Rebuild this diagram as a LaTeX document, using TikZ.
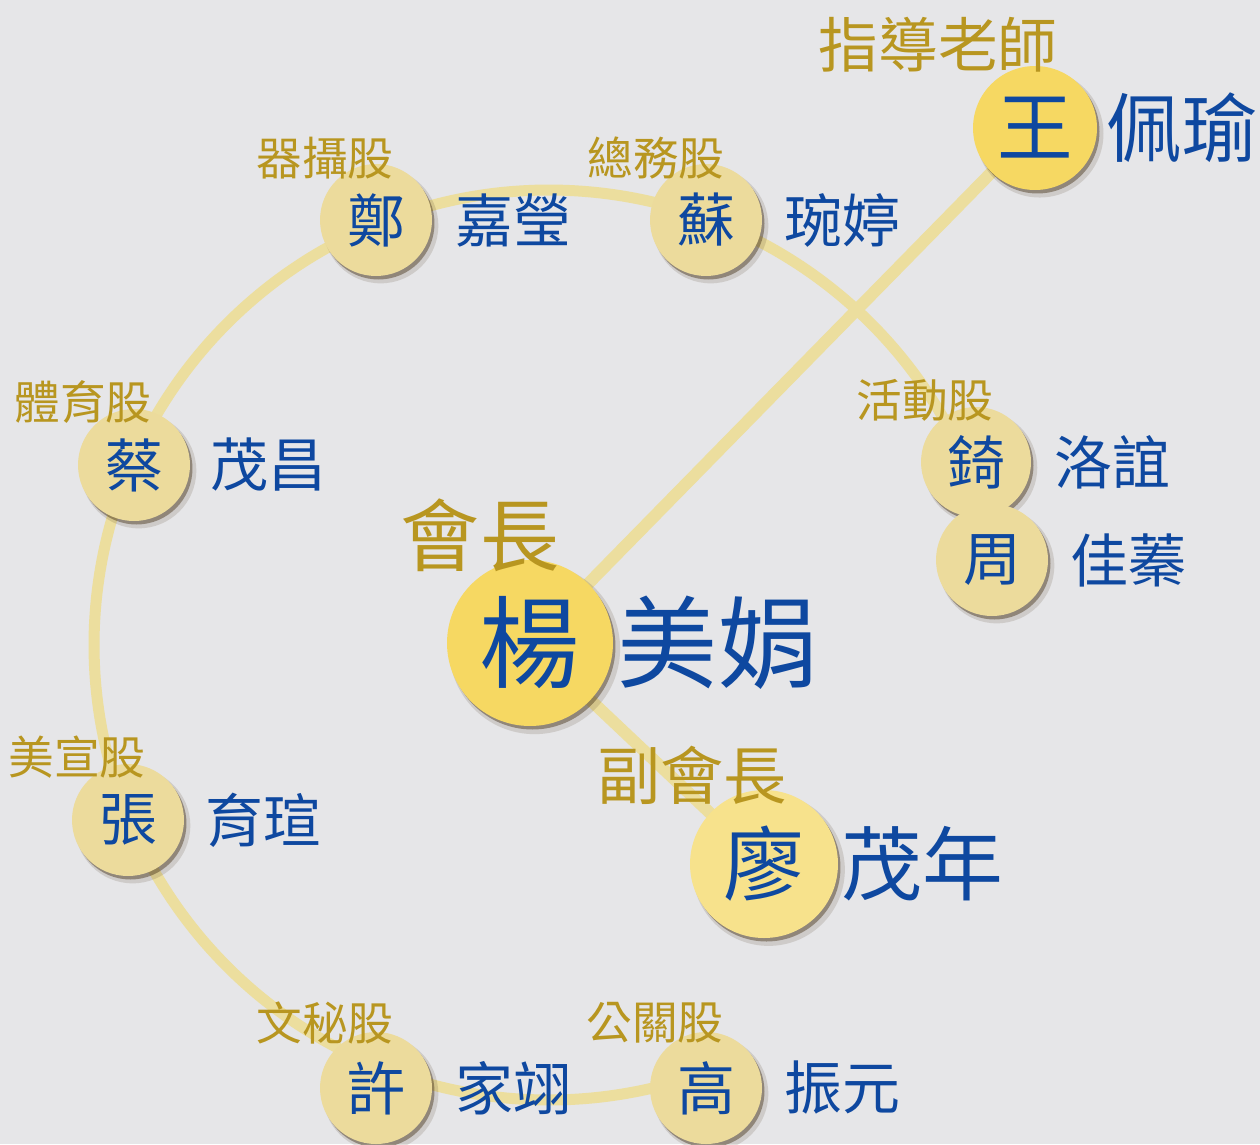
\documentclass[tikz,border=0pt]{standalone}
\usepackage{fontspec}
\newfontfamily\cjk{Noto Sans CJK TC}
\usetikzlibrary{shadows}
\definecolor{bg}{RGB}{230,230,232}
\definecolor{ringc}{RGB}{236,222,158}
\definecolor{gold}{RGB}{184,150,32}
\definecolor{navy}{RGB}{14,72,160}
\definecolor{pale}{RGB}{236,219,156}
\definecolor{sun}{RGB}{246,216,98}
\definecolor{sunlight}{RGB}{247,226,140}
\definecolor{shadec}{RGB}{70,50,25}
\pgfdeclarelayer{bottom}
\pgfdeclarelayer{background}
\pgfsetlayers{bottom,background,main}
\tikzset{
  shad/.style={
    drop shadow={shadow xshift=0.09cm, shadow yshift=-0.11cm, opacity=0.15, fill=shadec, shadow scale=1.03},
    drop shadow={shadow xshift=0.05cm, shadow yshift=-0.07cm, opacity=0.45, fill=shadec}},
  person/.style={circle, inner sep=0pt, shad, fill=pale, minimum size=2.24cm, text=navy,
    font=\cjk\fontsize{33}{36}\selectfont},
  bigperson/.style={person, fill=sun, minimum size=3.32cm, font=\cjk\fontsize{57}{60}\selectfont},
  wangperson/.style={person, fill=sun, minimum size=2.48cm, font=\cjk\fontsize{43}{46}\selectfont},
  liaoperson/.style={person, fill=sunlight, minimum size=2.96cm, font=\cjk\fontsize{46}{50}\selectfont},
  lab/.style={text=gold, inner sep=0pt, font=\cjk\fontsize{26}{29}\selectfont},
  nm/.style={text=navy, inner sep=0pt, font=\cjk\fontsize{33}{36}\selectfont},
  link/.style={draw=ringc, line width=0.24cm},
}
\begin{document}
\begin{tikzpicture}[x=0.02cm,y=-0.02cm]
\useasboundingbox (0,0) rectangle (1260,1144);
\begin{pgfonlayer}{bottom}
\fill[bg] (0,0) rectangle (1260,1144);
\end{pgfonlayer}
% people
\node[person] (zheng) at (376,220) {鄭};
\node[person] (su) at (706,220) {蘇};
\node[person] (cai) at (134,465) {蔡};
\node[person] (zhang) at (128,820) {張};
\node[person] (xu) at (376,1088) {許};
\node[person] (gao) at (706,1088) {高};
\node[person, minimum size=2.2cm] (qi) at (976,462) {錡};
\node[person] (zhou) at (992,560) {周};
\node[bigperson] (yang) at (530,643) {楊};
\node[wangperson] (wang) at (1035,128) {王};
\node[liaoperson] (liao) at (764,864) {廖};
% connectors
\begin{pgfonlayer}{background}
\draw[link, line width=0.22cm] plot[domain=70.5:336.8, samples=160, smooth] ({549+455*cos(\x)},{645+455*sin(\x)});
\draw[link] (yang.center) -- (wang.center);
\draw[link] (yang.center) -- (liao.center);
\end{pgfonlayer}
% role labels
\node[lab] (lzheng) at (325,158) {器攝股};
\node[lab] (lsu) at (656,158) {總務股};
\node[lab] (lcai) at (83,402) {體育股};
\node[lab] (lzhang) at (77,757) {美宣股};
\node[lab] (lxu) at (325,1023) {文秘股};
\node[lab] (lgao) at (655,1023) {公關股};
\node[lab] (lqi) at (925,400) {活動股};
\node[lab, font=\cjk\fontsize{45}{49}\selectfont] (lyang) at (480,535) {會長};
\node[lab, font=\cjk\fontsize{34}{37}\selectfont] (lwang) at (938,45) {指導老師};
\node[lab, font=\cjk\fontsize{36}{39}\selectfont] (lliao) at (692,775) {副會長};
% given names
\node[nm] (nzheng) at (513,220) {嘉瑩};
\node[nm] (nsu) at (842,220) {琬婷};
\node[nm] (ncai) at (268,465) {茂昌};
\node[nm] (nzhang) at (263,820) {育瑄};
\node[nm] (nxu) at (513,1088) {家翊};
\node[nm] (ngao) at (842,1088) {振元};
\node[nm] (nqi) at (1112,462) {洛誼};
\node[nm] (nzhou) at (1128,560) {佳蓁};
\node[nm, font=\cjk\fontsize{57}{60}\selectfont] (nyang) at (718,643) {美娟};
\node[nm, font=\cjk\fontsize{43}{46}\selectfont] (nwang) at (1182,128) {佩瑜};
\node[nm, font=\cjk\fontsize{46}{50}\selectfont] (nliao) at (922,864) {茂年};
\end{tikzpicture}
\end{document}
